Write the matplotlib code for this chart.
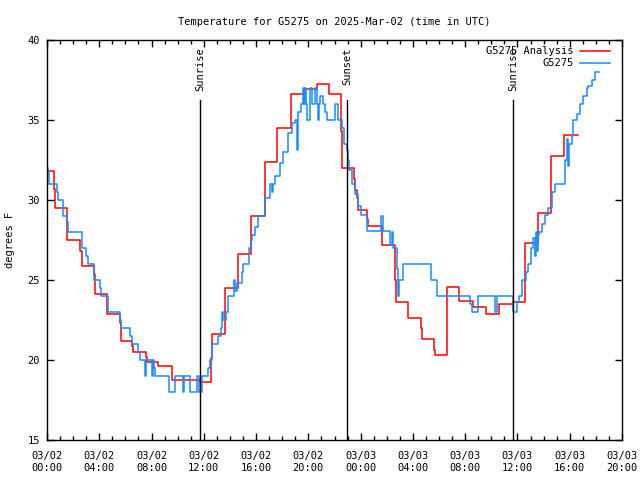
import numpy as np
import matplotlib
matplotlib.use("Agg")
import matplotlib.pyplot as plt

# hours since 03/02 00:00 UTC, degrees F (step values)
analysis_hours = [0, 0.56, 0.64, 1.55, 2.55, 2.65, 3.6, 3.68, 4.6, 5.59, 5.65, 6.53, 6.6,
                  7.55, 7.62, 8.52, 9.54, 9.6, 11.7, 12.55, 12.65, 13.6, 14.6, 15.6, 16.68,
                  17.6, 18.64, 19.66, 20.66, 21.6, 22.5, 22.6, 23.5, 23.6, 23.7, 23.8,
                  24.5, 24.6, 25.6, 26.6, 26.68, 27.6, 28.6, 28.68, 29.6, 29.7, 30.58,
                  30.64, 31.55, 32.57, 33.56, 34.6, 35.63, 36.6, 37.6, 38.56, 39.58, 40.6]
analysis_temp = [31.8, 30.7, 29.5, 27.5, 26.8, 25.9, 25.4, 24.1, 22.9, 22.3, 21.2, 20.9, 20.5,
                 20.2, 19.9, 19.6, 19.0, 18.75, 18.6, 20.1, 21.6, 24.5, 26.6, 29.0, 32.4,
                 34.5, 36.6, 36.94, 37.23, 36.6, 34.3, 32.0, 31.3, 30.6, 30.1, 29.4,
                 28.8, 28.4, 27.2, 25.0, 23.6, 22.6, 22.0, 21.3, 20.6, 20.3, 22.5,
                 24.56, 23.7, 23.3, 22.9, 23.5, 23.6, 27.3, 29.2, 32.75, 34.04, 34.04]

obs_hours = [0, 0.1, 0.18, 0.79, 0.86, 1.2, 1.55, 1.63, 2.7, 3.0, 3.1, 3.62, 4.03, 4.13,
             4.64, 4.7, 5.56, 5.66, 6.38, 6.48, 6.94, 7.09, 7.5, 7.58, 8.0, 8.08, 8.2, 8.28,
             9.35, 9.8, 10.38, 10.5, 10.94, 11.45, 11.6, 11.86, 12.34, 12.47, 12.65, 13.1,
             13.31, 13.42, 13.49, 13.67, 13.87, 14.33, 14.42, 14.51, 14.9, 15.02, 15.45,
             15.6, 15.71, 15.9, 16.17, 16.68, 17.06, 17.2, 17.3, 17.44, 17.83, 18.08, 18.47,
             18.72, 18.97, 19.15, 19.23, 19.4, 19.61, 19.68, 19.74, 19.85, 19.93, 20.12,
             20.25, 20.5, 20.63, 20.75, 20.82, 20.89, 21.14, 21.27, 21.4, 22.03, 22.29,
             22.55, 22.7, 22.93, 23.05, 23.14, 23.31, 23.57, 23.82, 24.0, 24.46, 25.55,
             25.7, 26.24, 26.37, 26.45, 26.76, 26.88, 26.96, 27.21, 27.26, 29.36, 29.82,
             29.87, 32.36, 32.5, 33.0, 34.28, 34.4, 35.68, 35.99, 36.11, 36.37, 36.65,
             36.83, 37.03, 37.21, 37.34, 37.42, 37.5, 37.58, 37.67, 37.85, 38.1, 38.36,
             38.61, 38.87, 39.63, 39.76, 39.89, 39.97, 40.14, 40.27, 40.53, 40.78, 41.03,
             41.29, 41.42, 41.67, 41.93, 42.23]
obs_temp = [32.0, 31.7, 31.0, 30.5, 30.0, 29.0, 28.6, 28.0, 27.0, 26.5, 26.0, 25.0, 24.5, 24.0,
            23.5, 23.0, 22.5, 22.0, 21.5, 21.0, 20.5, 20.0, 19.0, 20.0, 19.0, 20.0, 19.5, 19.0,
            18.0, 19.0, 18.0, 19.0, 18.0, 19.0, 18.0, 19.0, 19.5, 20.0, 21.0, 21.5,
            22.0, 23.0, 22.5, 23.0, 24.0, 25.0, 24.3, 24.8, 25.5, 26.0, 27.0,
            27.5, 27.8, 28.3, 29.0, 30.1, 31.0, 30.5, 31.0, 31.5, 32.3, 33.0, 34.2,
            34.8, 35.0, 33.1, 35.5, 36.0, 37.0, 36.0, 37.0, 36.0, 35.0, 37.0,
            36.0, 37.0, 36.0, 35.0, 36.0, 36.5, 36.0, 35.5, 35.0, 36.0, 35.0,
            34.5, 33.5, 33.1, 32.5, 31.9, 31.0, 30.4, 29.6, 29.06, 28.06, 29.0,
            28.06, 27.2, 28.0, 27.0, 25.7, 24.0, 25.0, 25.5, 26.0, 25.0, 24.5,
            24.0, 23.5, 23.0, 24.0, 23.0, 24.0, 23.0, 23.6, 24.0, 25.0, 25.5,
            26.0, 27.0, 27.6, 26.5, 28.0, 26.8, 27.8, 28.0, 28.5, 29.06, 29.5,
            30.5, 31.0, 32.5, 33.8, 32.1, 33.5, 34.0, 35.0, 35.4, 36.0, 36.5,
            37.0, 37.1, 37.5, 38.0, 38.0]

sun_hours = [11.73, 22.98, 35.68]
sun_labels = ["Sunrise", "Sunset", "Sunrise"]

tick_hours = [0, 4, 8, 12, 16, 20, 24, 28, 32, 36, 40, 44]
tick_labels = ["03/02\n00:00", "03/02\n04:00", "03/02\n08:00", "03/02\n12:00",
               "03/02\n16:00", "03/02\n20:00", "03/03\n00:00", "03/03\n04:00",
               "03/03\n08:00", "03/03\n12:00", "03/03\n16:00", "03/03\n20:00"]

plt.rcParams['font.family'] = ['DejaVu Sans Mono']
plt.rcParams['font.size'] = 7.5

fig = plt.figure(figsize=(6.4, 4.8), dpi=100)
ax = fig.add_axes([47 / 640, 40 / 480, 575 / 640, 400 / 480])

ax.plot(analysis_hours, analysis_temp, drawstyle='steps-post', color='#ff0000', lw=1.1,
        label='G5275 Analysis')
ax.plot(obs_hours, obs_temp, drawstyle='steps-post', color='#1a8cff', lw=1.1, label='G5275')

for h, lab in zip(sun_hours, sun_labels):
    ax.plot([h, h], [15, 36.25], color='black', lw=1.0)
    ax.text(h, 39.55, lab, rotation=90, ha='center', va='top', fontsize=7.5)

ax.set_xlim(0, 44)
ax.set_ylim(15, 40)
ax.set_xticks(tick_hours)
ax.set_xticklabels(tick_labels)
ax.set_xticks(np.arange(0, 45, 1), minor=True)
ax.set_yticks([15, 20, 25, 30, 35, 40])
ax.tick_params(which='both', direction='in', top=True, right=True, width=1)
ax.tick_params(which='major', length=5)
ax.tick_params(axis='x', which='major', pad=8)
ax.tick_params(axis='y', which='major', pad=5)
ax.tick_params(which='minor', length=3)
ax.tick_params(axis='y', which='minor', left=False, right=False)
for s in ax.spines.values():
    s.set_linewidth(1.0)

ax.set_ylabel('degrees F', labelpad=9)
ax.set_title('Temperature for G5275 on 2025-Mar-02 (time in UTC)', fontsize=7.5, pad=11)

ax.legend(loc='upper right', frameon=False, markerfirst=False, handlelength=2.9,
          borderaxespad=0.2, labelspacing=0.2, handletextpad=0.6,
          bbox_to_anchor=(0.99, 1.0))

fig.savefig('out.png', dpi=100)
